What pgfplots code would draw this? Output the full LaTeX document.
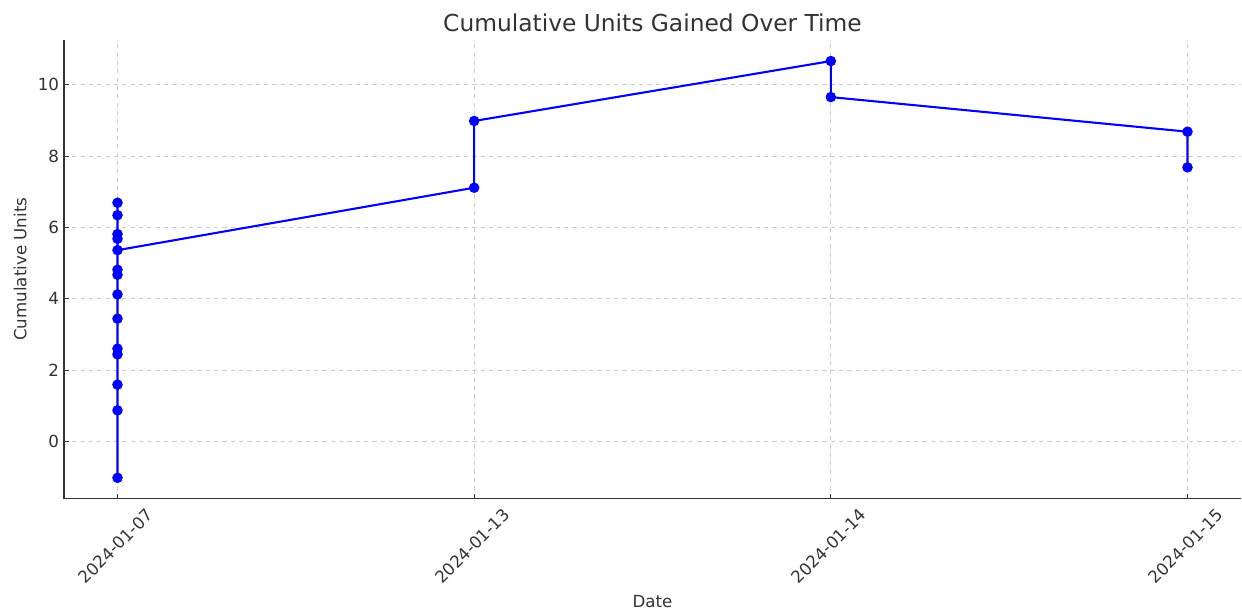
\documentclass[border=0pt]{standalone}
\usepackage{pgfplots}
\pgfplotsset{compat=1.18}
\usepackage{fontspec}
\setmainfont{DejaVu Sans}
\definecolor{txt}{HTML}{333333}
\definecolor{gridc}{HTML}{CCCCCC}
\begin{document}
\begin{tikzpicture}
\useasboundingbox (-46.08pt,-80.64pt) rectangle (847.44pt+0.72pt,330.12pt+28.8pt);
\begin{axis}[
  at={(0,0)}, anchor=south west,
  scale only axis, width=847.44pt, height=330.12pt,
  xmin=-0.15, xmax=3.15, ymin=-1.60, ymax=11.25,
  axis lines*=left,
  axis line style={draw=txt, line width=0.9pt},
  xtick={0,1,2,3},
  xticklabels={2024-01-07,2024-01-13,2024-01-14,2024-01-15},
  ytick={0,2,4,6,8,10},
  tick style={draw=txt, line width=0.6pt},
  tick align=inside, major tick length=3.5pt,
  grid=major,
  major grid style={draw=gridc, dashed, line width=0.5pt},
  /pgf/number format/assume math mode=true,
  tick label style={font=\fontsize{12pt}{14pt}\selectfont, text=txt},
  x tick label style={rotate=45, anchor=center, xshift=-25.4pt, yshift=-23.4pt},
  y tick label style={xshift=0pt},
  title={Cumulative Units Gained Over Time},
  title style={font=\fontsize{16.8pt}{19pt}\selectfont, text=txt, at={(axis description cs:0.5,1)}, anchor=center, yshift=6.2pt},
  xlabel={Date}, ylabel={Cumulative Units},
  every axis x label/.style={at={(axis description cs:0.5,0)}, anchor=center, yshift=-74pt, font=\fontsize{12pt}{14pt}\selectfont, text=txt},
  every axis y label/.style={at={(axis description cs:0,0.5)}, rotate=90, anchor=center, yshift=31.5pt, font=\fontsize{12pt}{14pt}\selectfont, text=txt},
  clip=false,
]
\addplot[color=blue, line width=1.5pt, mark=*, mark size=3pt, mark options={fill=blue, draw=blue}] coordinates {
(0,-1.02) (0,0.87) (0,1.59) (0,2.44) (0,2.60) (0,3.44) (0,4.12) (0,4.67) (0,4.81) (0,5.68) (0,5.81) (0,6.34) (0,6.69) (0,5.36)
(1,7.11) (1,8.98)
(2,10.66) (2,9.65)
(3,8.68) (3,7.68)
};
\end{axis}
\end{tikzpicture}
\end{document}
